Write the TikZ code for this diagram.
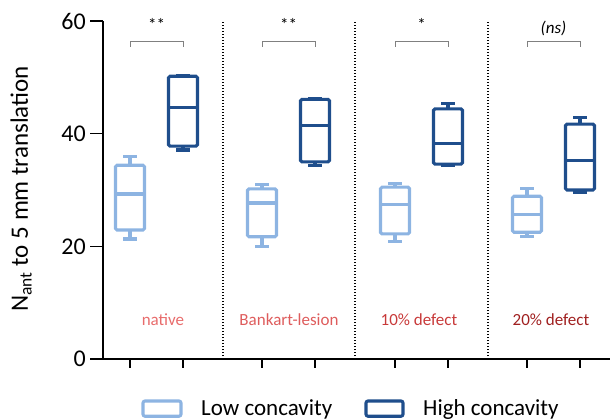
\documentclass[tikz,border=0pt]{standalone}
\usepackage{fontspec}
\setmainfont{Carlito}
\definecolor{lowblue}{RGB}{141,180,226}
\definecolor{highblue}{RGB}{31,78,140}
\definecolor{natred}{RGB}{232,108,108}
\definecolor{bankred}{RGB}{222,92,92}
\definecolor{tenred}{RGB}{200,58,58}
\definecolor{twentyred}{RGB}{160,32,32}
\tikzset{
	whisk/.style={line width=3.1pt},
	bracket/.style={draw=gray, line width=0.9pt},
	axis/.style={line width=1.4pt}
}
\begin{document}
\begin{tikzpicture}[x=1pt,y=1pt]
	\useasboundingbox (0,0) rectangle (610,418);
	\begin{scope}[shift={(0,59)},y=5.633pt]
	\draw[axis] (103,60) -- (103,0) -- (610,0);
	\foreach \v in {0,20,40,60} {\draw[axis] (90,\v) -- (103,\v); \node[anchor=east, inner sep=0pt, font=\fontsize{24}{28}\selectfont] (tick\v) at (86,\v) {\v};}
	\foreach \x in {130,183,262,315,395,448,527,580} \draw[axis] (\x,0) -- (\x,-1.6);
	\foreach \x in {223,355,488} \draw[line width=1.3pt, dash pattern=on 1.3pt off 1.7pt] (\x,0) -- (\x,60);

	% boxes: centre / min / q1 / median / q3 / max / colour
	\foreach \x/\lo/\qa/\md/\qb/\hi/\c in {130/21.3/22.9/29.3/34.4/36.0/lowblue, 183/37.1/37.8/44.6/50.2/50.4/highblue,
		262/19.9/21.7/27.7/30.2/30.9/lowblue, 315/34.3/35.0/41.4/46.1/46.3/highblue,
		395/20.8/22.2/27.5/30.5/31.2/lowblue, 448/34.4/34.6/38.2/44.4/45.3/highblue,
		527/21.7/22.5/25.7/28.9/30.2/lowblue, 580/29.5/30.0/35.2/41.7/42.8/highblue} {
		\draw[whisk, \c] (\x,\qa) -- (\x,\lo) (\x-7,\lo) -- (\x+7,\lo); \draw[whisk, \c] (\x,\qb) -- (\x,\hi) (\x-7,\hi) -- (\x+7,\hi);
		\filldraw[whisk, draw=\c, fill=white, rounded corners=1.5pt] (\x-14.5,\qa) rectangle (\x+14.5,\qb);
		\draw[whisk, \c] (\x-14.5,\md) -- (\x+14.5,\md);
	}

	% significance
	\foreach \a/\b/\n in {130/183/nat, 262/315/bank, 395/448/ten, 527/580/twenty} \draw[bracket] (\a,55.4) -- (\a,56.3) -- (\b,56.3) -- (\b,55.4);
	\node[font=\fontsize{17}{18}\selectfont] (signat) at (156.5,59.4) {**};
	\node[font=\fontsize{17}{18}\selectfont] (sigbank) at (288.5,59.4) {**};
	\node[font=\fontsize{17}{18}\selectfont] (sigten) at (421.5,59.4) {*};
	\node[font=\fontsize{17}{20}\selectfont\itshape] (sigtwenty) at (553.5,58.6) {(ns)};

	\node[text=natred, font=\fontsize{17}{20}\selectfont] (labnat) at (163,6.9) {native};
	\node[text=bankred, font=\fontsize{17}{20}\selectfont] (labbank) at (289,6.9) {Bankart-lesion};
	\node[text=tenred, font=\fontsize{17}{20}\selectfont] (labten) at (419,6.9) {10\% defect};
	\node[text=twentyred, font=\fontsize{17}{20}\selectfont] (labtwenty) at (551,6.9) {20\% defect};
	\end{scope}

	\node[rotate=90, anchor=base, font=\fontsize{25}{30}\selectfont] (ylab) at (28,229) {N\textsubscript{ant} to 5 mm translation};

	% legend
	\draw[whisk, lowblue, rounded corners=2pt] (143,1.8) rectangle (181,17);
	\node[anchor=base west, inner sep=0pt, font=\fontsize{23}{28}\selectfont] (leglow) at (201,3) {Low concavity};
	\draw[whisk, highblue, rounded corners=2pt] (366,1.8) rectangle (403,17);
	\node[anchor=base west, inner sep=0pt, font=\fontsize{23}{28}\selectfont] (leghigh) at (423,3) {High concavity};
\end{tikzpicture}
\end{document}
